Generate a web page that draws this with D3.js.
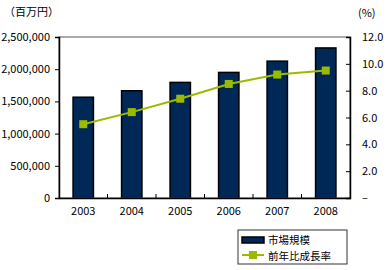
<!DOCTYPE html>
<html>
<head>
<meta charset="utf-8">
<script src="https://cdn.jsdelivr.net/npm/d3@7"></script>
<style>
  body { margin: 0; background: #fff; }
  text { font-family: "Noto Sans CJK JP", "Liberation Sans", sans-serif; fill: #000; }
</style>
</head>
<body>
<div id="chart"></div>
<script>
// data
var years = ["2003", "2004", "2005", "2006", "2007", "2008"];
var marketSize = [1565000, 1665000, 1795000, 1950000, 2125000, 2330000];
var growthRate = [5.5, 6.4, 7.4, 8.5, 9.2, 9.5];
var leftTicks = [0, 500000, 1000000, 1500000, 2000000, 2500000];
var rightTicks = [0, 2, 4, 6, 8, 10, 12];
var seriesNames = ["市場規模", "前年比成長率"];

var W = 390, H = 270;
var margin = {top: 37, right: 40, bottom: 72, left: 59},
    width = W - margin.left - margin.right,
    height = H - margin.top - margin.bottom;

var svg = d3.select("#chart").append("svg")
    .attr("width", W)
    .attr("height", H)
  .append("g")
    .attr("transform", "translate(" + margin.left + "," + margin.top + ")");

var x = d3.scaleBand().domain(years).range([0, width]).paddingInner(0.58).paddingOuter(0.29);
var xc = d3.scalePoint().domain(years).range([x.step() / 2, width - x.step() / 2]);
var yL = d3.scaleLinear().domain([0, 2500000]).range([height, 0]);
var yR = d3.scaleLinear().domain([0, 12]).range([height, 0]);

// bars
svg.selectAll(".bar")
  .data(marketSize)
  .enter().append("rect")
  .attr("class", "bar")
  .attr("x", (d, i) => xc(years[i]) - x.bandwidth() / 2)
  .attr("width", x.bandwidth())
  .attr("y", (d) => yL(d))
  .attr("height", (d) => height - yL(d))
  .style("fill", "#002856")
  .style("stroke", "#000")
  .style("stroke-width", 1.5);

// frame
svg.append("rect")
  .attr("width", width).attr("height", height)
  .style("fill", "none").style("stroke", "#555").style("stroke-width", 1);

// left axis
var gL = svg.append("g")
  .call(d3.axisLeft(yL).tickValues(leftTicks).tickSize(4).tickPadding(5)
    .tickFormat(d3.format(",")));
gL.select(".domain").attr("stroke", "#000").attr("stroke-width", 1.5);
gL.selectAll("text").style("font-size", "11px");

// right axis, ticks inward
var gR = svg.append("g")
  .attr("transform", "translate(" + width + ",0)")
  .call(d3.axisRight(yR).tickValues(rightTicks).tickSize(-4).tickPadding(12)
    .tickFormat((d) => d === 0 ? "–" : d3.format(".1f")(d)));
gR.select(".domain").attr("stroke", "#000").attr("stroke-width", 1.5);
gR.selectAll("text").style("font-size", "11px");

// bottom axis: ticks between categories, pointing up
var gB = svg.append("g")
  .attr("transform", "translate(0," + height + ")")
  .call(d3.axisBottom(x).tickSize(0).tickPadding(9));
gB.select(".domain").attr("stroke", "#000").attr("stroke-width", 1.5);
gB.selectAll("text").style("font-size", "11px");
svg.selectAll(".sep")
  .data(years.slice(1))
  .enter().append("line")
  .attr("x1", (d) => xc(d) - x.step() / 2)
  .attr("x2", (d) => xc(d) - x.step() / 2)
  .attr("y1", height).attr("y2", height - 4)
  .style("stroke", "#000");

// growth line
var lineColor = "#9bbb00";
svg.append("path")
  .datum(growthRate)
  .attr("d", d3.line().x((d, i) => xc(years[i])).y((d) => yR(d)))
  .style("fill", "none").style("stroke", lineColor).style("stroke-width", 2);
svg.selectAll(".pt")
  .data(growthRate)
  .enter().append("rect")
  .attr("class", "pt")
  .attr("x", (d, i) => xc(years[i]) - 4)
  .attr("y", (d) => yR(d) - 4)
  .attr("width", 8).attr("height", 8)
  .style("fill", lineColor);

// unit labels
d3.select("svg").append("text").attr("x", 4).attr("y", 16)
  .style("font-size", "11px").text("（百万円）");
d3.select("svg").append("text").attr("x", 358).attr("y", 17)
  .style("font-size", "11px").text("(%)");

// legend
var lg = d3.select("svg").append("g").attr("transform", "translate(238,230)");
lg.append("rect").attr("width", 109).attr("height", 34)
  .style("fill", "#fff").style("stroke", "#333");
lg.append("rect").attr("x", 4).attr("y", 7).attr("width", 22).attr("height", 6)
  .style("fill", "#002856").style("stroke", "#000").style("stroke-width", 1.5);
lg.append("line").attr("x1", 4).attr("x2", 26).attr("y1", 25).attr("y2", 25)
  .style("stroke", lineColor).style("stroke-width", 2);
lg.append("rect").attr("x", 11).attr("y", 21).attr("width", 8).attr("height", 8)
  .style("fill", lineColor);
lg.selectAll(".lt")
  .data(seriesNames)
  .enter().append("text")
  .attr("x", 30)
  .attr("y", (d, i) => 14 + i * 16)
  .style("font-size", "10.5px")
  .text((d) => d);
</script>
</body>
</html>
